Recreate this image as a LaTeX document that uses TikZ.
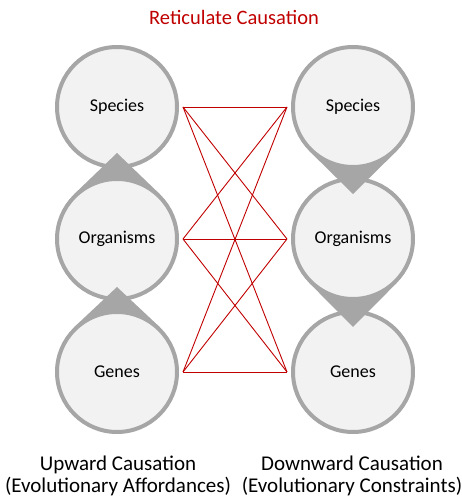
\documentclass[tikz,border=0pt]{standalone}
\usepackage{fontspec}
\setmainfont{Carlito}
\usepackage{tikz}
\usetikzlibrary{calc}

\definecolor{ringgray}{RGB}{166,166,166}
\definecolor{ringfill}{RGB}{242,242,242}
\definecolor{causered}{RGB}{192,0,0}

\begin{document}
\begin{tikzpicture}[
    x=1pt, y=1pt,
    ring/.style={circle, draw=ringgray, line width=4pt, fill=ringfill, minimum size=120pt, inner sep=0pt, font=\fontsize{18}{20}\selectfont},
    tip/.style={fill=ringgray},
    link/.style={draw=causered, line width=0.9pt},
    caption/.style={align=center, font=\fontsize{21}{22.5}\selectfont}
]
\useasboundingbox (0,0) rectangle (462,498);

% centres of the circles
\coordinate (cSpecL) at (117,391);
\coordinate (cOrgL) at (117,259);
\coordinate (cGenL) at (117,126);
\coordinate (cSpecR) at (353,391);
\coordinate (cOrgR) at (353,259);
\coordinate (cGenR) at (353,126);

% upward causation (left column)
\node[ring] (specL) at (cSpecL) {Species};
\fill[tip] ($(cOrgL)+(0,86)$) -- ($(cOrgL)+(134:62)$) -- ($(cOrgL)+(46:62)$) -- cycle;
\node[ring] (orgL) at (cOrgL) {Organisms};
\fill[tip] ($(cGenL)+(0,85)$) -- ($(cGenL)+(134:62)$) -- ($(cGenL)+(46:62)$) -- cycle;
\node[ring] (genL) at (cGenL) {Genes};

% downward causation (right column)
\node[ring] (genR) at (cGenR) {Genes};
\fill[tip] ($(cOrgR)+(0,-88)$) -- ($(cOrgR)+(225:62)$) -- ($(cOrgR)+(315:62)$) -- cycle;
\node[ring] (orgR) at (cOrgR) {Organisms};
\fill[tip] ($(cSpecR)+(0,-87)$) -- ($(cSpecR)+(225:62)$) -- ($(cSpecR)+(315:62)$) -- cycle;
\node[ring] (specR) at (cSpecR) {Species};

% reticulate links
\coordinate (pSpecL) at ($(specL.east)+(4,0)$);
\coordinate (pOrgL) at ($(orgL.east)+(4,0)$);
\coordinate (pGenL) at ($(genL.east)+(4,0)$);
\coordinate (pSpecR) at ($(specR.west)+(-4,0)$);
\coordinate (pOrgR) at ($(orgR.west)+(-4,0)$);
\coordinate (pGenR) at ($(genR.west)+(-4,0)$);
\foreach \a in {pSpecL,pOrgL,pGenL}
  \foreach \b in {pSpecR,pOrgR,pGenR}
    \draw[link] (\a) -- (\b);

\node[font=\fontsize{20.5}{22}\selectfont, text=causered] (title) at (234,481) {Reticulate Causation};
\node[caption] (upLabel) at (118,22) {Upward Causation\\(Evolutionary Affordances)};
\node[caption] (downLabel) at (352,22) {Downward Causation\\(Evolutionary Constraints)};
\end{tikzpicture}
\end{document}
